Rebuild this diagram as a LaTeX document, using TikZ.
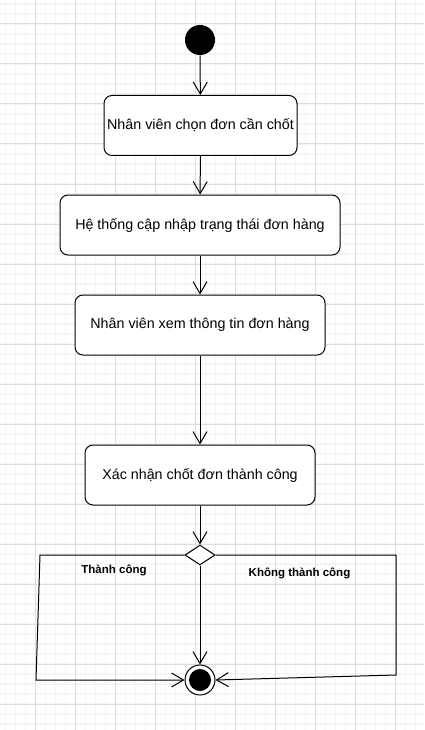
\documentclass[tikz,border=0pt]{standalone}
\usepackage{fontspec}
\setmainfont{Liberation Sans}
\usetikzlibrary{arrows.meta,positioning,shapes.geometric}

\tikzset{
	action/.style={draw, rounded corners=8pt, minimum height=60pt, inner sep=0pt, fill=white, font=\fontsize{14.3}{17}\selectfont},
	flow/.style={-{Straight Barb[length=12pt,width=14pt]}},
	guard/.style={font=\fontsize{11.5}{14}\selectfont\bfseries},
}

\begin{document}
\begin{tikzpicture}[x=1pt,y=-1pt,line width=1pt]
				\useasboundingbox (0,0) rectangle (424,730);
				\fill[white] (0,0) rectangle (424,730);
				% background grid
				\foreach \x in {5.5,15.5,...,424} \draw[color=gray!8, line width=1.5pt] (\x,0)--(\x,730);
				\foreach \y in {4,14,...,730} \draw[color=gray!8, line width=1.5pt] (0,\y)--(424,\y);
				\foreach \x in {35.5,75.5,...,424} \draw[color=gray!27] (\x,0)--(\x,730);
				\foreach \y in {24,64,...,730} \draw[color=gray!27] (0,\y)--(424,\y);
				% activities
				\node[circle, fill, minimum size=30pt, inner sep=0pt] (start) at (200,40) {};
				\node[action, minimum width=193pt] (choose) at (200.5,125.5) {Nhân viên chọn đơn cần chốt};
				\node[action, minimum width=280pt] (update) at (200,225) {Hệ thống cập nhập trạng thái đơn hàng};
				\node[action, minimum width=250pt] (view) at (200,325) {Nhân viên xem thông tin đơn hàng};
				\node[action, minimum width=230pt] (confirm) at (200,475) {Xác nhận chốt đơn thành công};
				\node[diamond, draw, fill=white, minimum width=30pt, minimum height=20pt, inner sep=0pt] (merge) at (200,555) {};
				\node[circle, draw, fill=white, minimum size=30pt, inner sep=0pt] (stop) at (200,680) {};
				\fill (stop) circle (11pt);
				\coordinate (tl) at (40,555);
				\coordinate (bl) at (36,680);
				\coordinate (tr) at (396,555);
				\coordinate (br) at (396,675);
				% flows
				\draw[flow] (start)--(choose);
				\draw[flow] (choose)--(update);
				\draw[flow] (update)--(view);
				\draw[flow] (view)--(confirm);
				\draw[flow] (confirm)--(merge);
				\draw[flow] (merge)--(stop);
				\draw[flow] (merge.west)--(tl)--(bl)--(stop.west);
				\draw[flow] (merge.east)--(tr)--(br)--(stop.east);
				\node[guard] (ok) at (114,570) {Thành công};
				\node[guard] (fail) at (299.5,573) {Không thành công};
			\end{tikzpicture}
\end{document}
